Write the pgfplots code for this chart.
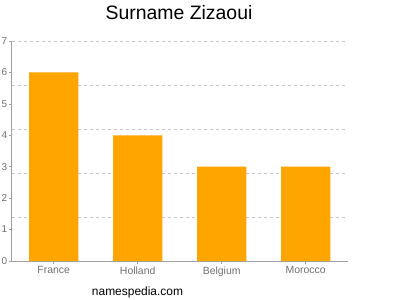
\documentclass[border=0pt]{standalone}
\usepackage{pgfplots}
\pgfplotsset{compat=1.18}
\usepackage{fontspec}
\setmainfont{Liberation Sans}
\definecolor{barorange}{HTML}{FFA500}
\definecolor{gridgray}{HTML}{C8C8C8}
\definecolor{axisgray}{HTML}{A0A0A0}
\definecolor{labelgray}{HTML}{707070}
\begin{document}
\begin{tikzpicture}[x=1bp,y=1bp]
\useasboundingbox (0,0) rectangle (400,300);
\node[font=\fontsize{19.5}{22}\selectfont, anchor=base, inner sep=0pt] at (179,280.5) {Surname Zizaoui};
\node[font=\fontsize{12}{14}\selectfont, anchor=base, inner sep=0pt] at (137.5,4.5) {namespedia.com};
\begin{axis}[
  at={(11.7bp,39bp)}, anchor=south west,
  scale only axis, width=336bp, height=220bp,
  xmin=-0.5, xmax=3.5, ymin=0, ymax=7,
  axis x line*=bottom, axis y line*=left,
  axis line style={axisgray, line width=0.8pt},
  xtick={0,1,2,3}, xticklabels={France,Holland,Belgium,Morocco},
  ytick={0,1,...,7},
  tick align=outside, major tick length=3bp,
  tick style={axisgray, line width=0.6pt},
  /pgf/number format/assume math mode=true,
  xticklabel style={font=\fontsize{10.5}{12}\selectfont, text=labelgray, yshift=1bp},
  yticklabel style={font=\fontsize{10}{12}\selectfont, text=labelgray, xshift=2bp},
  extra y ticks={1.4,2.8,4.2,5.6,7},
  extra y tick labels={},
  extra y tick style={grid=major, major tick length=0pt},
  major grid style={gridgray, dashed, line width=0.6pt, dash pattern=on 3bp off 3bp},
  clip=false,
]
\addplot[ybar, bar width=49.3bp, fill=barorange, draw=none, bar shift=0pt]
  coordinates {(0,6) (1,4) (2,3) (3,3)};
\end{axis}
\end{tikzpicture}
\end{document}
